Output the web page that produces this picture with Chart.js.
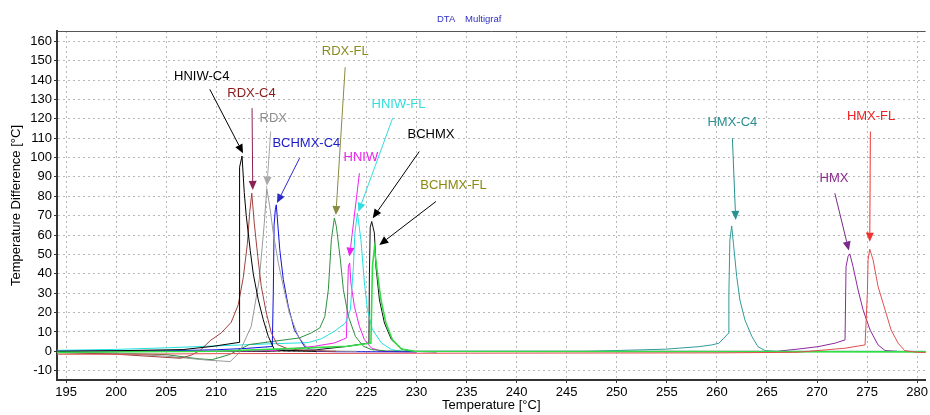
<!DOCTYPE html>
<html>
<head>
<meta charset="utf-8">
<script src="https://cdn.jsdelivr.net/npm/chart.js@4/dist/chart.umd.min.js"></script>
<style>
  html, body { margin: 0; padding: 0; background: #fff; }
  #wrap { width: 930px; height: 415px; }
</style>
</head>
<body>
<div id="wrap"><canvas id="dta" width="930" height="415"></canvas></div>
<script>
// tick values
const xTicks = [195, 200, 205, 210, 215, 220, 225, 230, 235, 240, 245, 250, 255, 260, 265, 270, 275, 280];
const yTicks = [-10, 0, 10, 20, 30, 40, 50, 60, 70, 80, 90, 100, 110, 120, 130, 140, 150, 160];

// curves: temperature [°C] / temperature difference [°C]
const hniwC4T = [194.1, 200, 206.7, 209.7, 212.28, 212.31, 212.36, 212.58, 212.8, 213.0, 213.4, 213.7, 214.2, 214.7, 215.2, 215.8, 217, 220];
const hniwC4V = [0, 0.3, 0.9, 2.6, 4.6, 60, 95, 100.8, 82, 70, 52, 40, 26.6, 16.3, 7.7, 1, 0.2, 0];

const rdxC4T = [194.1, 200, 204, 206.4, 207.5, 208.4, 209.4, 210.5, 211.5, 212.2, 212.7, 213.1, 213.35, 213.55, 213.8, 214.15, 214.5, 215.0, 215.5, 216.1, 217.1, 219, 222];
const rdxC4V = [-0.5, -1.5, -2.8, -3.6, -2, 0.5, 5.5, 9.5, 15, 24, 38, 55, 72, 81.6, 66.2, 49, 33.5, 19.9, 9.6, 3.5, 1.4, 0.3, 0];

const rdxT = [194.1, 200, 205, 209, 211.4, 212.3, 213.5, 214.3, 214.8, 215.05, 215.35, 215.7, 216.2, 216.7, 217.3, 218.2, 219.2, 221, 224];
const rdxV = [-0.5, -1, -2.5, -4.5, -5.3, -0.7, 12.9, 37, 66, 84, 74.7, 61, 45.7, 33.5, 19.9, 7.7, 0.9, 0.2, 0];

const bchmxC4T = [194.1, 205, 210, 213, 215.6, 215.7, 215.78, 215.9, 216.0, 216.35, 216.7, 217.2, 217.8, 218.8, 219.8, 222, 230];
const bchmxC4V = [0, 0.3, 0.8, 1.5, 2.5, 30, 65, 73, 75.6, 52.4, 37, 23.2, 11.2, 2.6, 0, -0.2, -0.3];

const rdxFlT = [194.1, 200, 205, 208.3, 209.6, 211.3, 213.3, 218.3, 219.5, 220.35, 220.85, 221.2, 221.5, 221.8, 222.0, 222.4, 222.7, 223.2, 223.9, 224.7, 225.5, 227, 230];
const rdxFlV = [-0.8, -1, -1.7, -3.9, -4.3, -1.7, 3.5, 6.9, 9.5, 12.1, 18, 31.8, 57.6, 68.8, 64.4, 47.3, 31.8, 18, 7.7, 2.6, 0.9, 0.2, 0];

const hniwFlT = [194.1, 200, 205, 210, 215, 219.2, 220.5, 221.8, 222.9, 223.4, 223.7, 223.85, 224.1, 224.45, 224.8, 225.1, 225.6, 226.5, 227.5, 228.5, 232];
const hniwFlV = [0.5, 1, 1.8, 2.8, 3.8, 4.5, 6.5, 10.3, 14.6, 21.5, 43.8, 61, 71.3, 57.6, 35.3, 21.5, 11.2, 4.3, 0.9, 0, -0.2];

const hniwT = [194.1, 210, 216, 219.8, 221.8, 223.0, 223.12, 223.2, 223.33, 223.45, 223.8, 224.3, 224.8, 225.5, 226.5, 230];
const hniwV = [0, 0, 0.5, 2.6, 4.3, 6.9, 30, 44, 45.6, 35.3, 23.2, 12.9, 6, 1.7, 0, -0.3];

const bchmxT = [194.1, 215, 220, 223, 225.25, 225.3, 225.38, 225.53, 225.8, 225.95, 226.3, 226.8, 227.5, 228.5, 229.5, 232];
const bchmxV = [0, 0, 0.8, 2.5, 4.3, 40, 64, 67, 61, 43.8, 26.6, 14.6, 6, 1.2, 0, -0.3];

const bchmxFlT = [194.1, 210, 218, 223.1, 225.45, 225.6, 225.8, 226.1, 226.45, 226.95, 227.6, 228.5, 229.8, 281];
const bchmxFlV = [-0.5, 0, 1.5, 2.6, 4.3, 43.8, 53.3, 40.4, 26.6, 14.6, 6, 1.2, 0, -0.3];

const hmxC4T = [230, 240, 246.9, 254.85, 258.2, 259.5, 260.2, 260.7, 261.15, 261.2, 261.3, 261.48, 261.65, 261.98, 262.3, 262.8, 263.5, 264.1, 264.8, 266, 281];
const hmxC4V = [0, 0, 0, 1.1, 2.4, 3.3, 4.2, 6.8, 9.3, 30, 57.5, 64.7, 55.8, 38.6, 26.5, 16.2, 7.6, 2.4, 0.4, 0, 0];

const hmxT = [230, 266, 268, 270.1, 271.8, 272.8, 272.9, 273.1, 273.28, 273.6, 274.1, 274.6, 275.3, 276.1, 276.8, 278];
const hmxV = [0, 0, 1.1, 2.4, 4.2, 5.9, 43.7, 48.9, 50.3, 43.7, 31.7, 21.4, 11, 3.3, 0.4, 0];

const hmxFlT = [194.1, 200, 210, 230, 260, 268, 270.1, 272.8, 274.8, 275.03, 275.1, 275.27, 275.6, 276.1, 276.8, 277.4, 278.1, 278.75, 280, 281];
const hmxFlV = [-1.5, -1.5, -1.2, -1, -0.8, -0.5, 0.4, 1.6, 3.3, 30, 47.2, 52.7, 47.2, 33.4, 21.4, 11, 4.2, 0.4, -0.5, -0.6];

function pts(t, v) {
  return t.map((x, i) => ({ x: x, y: v[i] }));
}

function series(label, t, v, color, width) {
  return {
    label: label,
    data: pts(t, v),
    borderColor: color,
    borderWidth: width || 1,
    pointRadius: 0,
    tension: 0,
    fill: false
  };
}

// label text + arrow from label to peak, in data units
const notes = [
  { text: "HNIW-C4", color: "#000000", arrow: "#000000", tx: 208.55, ty: 141.8, x1: 209.36, y1: 135.2, x2: 212.68, y2: 102.2 },
  { text: "RDX-C4", color: "#8b1a1a", arrow: "#8b2252", tx: 213.52, ty: 133.2, x1: 213.58, y1: 125.5, x2: 213.65, y2: 83.3 },
  { text: "RDX", color: "#8c8c8c", arrow: "#a8a8a8", tx: 215.7, ty: 120.3, x1: 215.44, y1: 113.4, x2: 215.07, y2: 85.5 },
  { text: "BCHMX-C4", color: "#1a1acc", arrow: "#2a2acc", tx: 219.0, ty: 107.4, x1: 218.33, y1: 99.7, x2: 216.07, y2: 76.5 },
  { text: "RDX-FL", color: "#8a8a20", arrow: "#8a8a40", tx: 222.89, ty: 154.7, x1: 222.88, y1: 146.6, x2: 221.95, y2: 70.4 },
  { text: "HNIW-FL", color: "#33dddd", arrow: "#33dddd", tx: 228.2, ty: 127.2, x1: 227.62, y1: 120.3, x2: 224.2, y2: 72.0 },
  { text: "HNIW", color: "#ee22ee", arrow: "#ee22ee", tx: 224.45, ty: 100.0, x1: 224.3, y1: 91.9, x2: 223.31, y2: 48.9 },
  { text: "BCHMX", color: "#000000", arrow: "#000000", tx: 231.45, ty: 111.7, x1: 230.28, y1: 103.1, x2: 225.63, y2: 68.7 },
  { text: "BCHMX-FL", color: "#8a8a10", arrow: "#000000", tx: 233.7, ty: 85.4, x1: 231.94, y1: 77.3, x2: 226.29, y2: 54.9 },
  { text: "HMX-C4", color: "#2a9090", arrow: "#2a9090", tx: 261.55, ty: 118.0, x1: 261.55, y1: 110.0, x2: 261.88, y2: 67.8 },
  { text: "HMX", color: "#8a2a8a", arrow: "#7a2a8a", tx: 271.7, ty: 89.0, x1: 271.78, y1: 81.6, x2: 273.18, y2: 52.0 },
  { text: "HMX-FL", color: "#ee2222", arrow: "#ee3333", tx: 275.4, ty: 121.1, x1: 275.33, y1: 113.4, x2: 275.27, y2: 56.6 }
];

const notesPlugin = {
  id: "notes",
  afterDatasetsDraw(chart) {
    const ctx = chart.ctx;
    const xs = chart.scales.x, ys = chart.scales.y;
    ctx.save();
    notes.forEach((n) => {
      const ax = xs.getPixelForValue(n.x1), ay = ys.getPixelForValue(n.y1);
      const bx = xs.getPixelForValue(n.x2), by = ys.getPixelForValue(n.y2);
      const ang = Math.atan2(by - ay, bx - ax);
      const len = 9, half = 4;
      const baseX = bx - len * Math.cos(ang), baseY = by - len * Math.sin(ang);
      ctx.strokeStyle = n.arrow;
      ctx.fillStyle = n.arrow;
      ctx.lineWidth = 1;
      ctx.beginPath();
      ctx.moveTo(ax, ay);
      ctx.lineTo(baseX, baseY);
      ctx.stroke();
      ctx.beginPath();
      ctx.moveTo(bx, by);
      ctx.lineTo(baseX + half * Math.sin(ang), baseY - half * Math.cos(ang));
      ctx.lineTo(baseX - half * Math.sin(ang), baseY + half * Math.cos(ang));
      ctx.closePath();
      ctx.fill();

      ctx.fillStyle = n.color;
      ctx.font = "13px 'Liberation Sans', Arial, sans-serif";
      ctx.textAlign = "center";
      ctx.textBaseline = "middle";
      ctx.fillText(n.text, xs.getPixelForValue(n.tx), ys.getPixelForValue(n.ty));
    });
    ctx.restore();
  },
  afterDraw(chart) {
    const ctx = chart.ctx;
    const a = chart.chartArea;
    ctx.save();
    // top frame line
    ctx.strokeStyle = "#555555";
    ctx.lineWidth = 1;
    ctx.beginPath();
    ctx.moveTo(a.left, a.top + 0.5);
    ctx.lineTo(a.right, a.top + 0.5);
    ctx.stroke();
    // header
    ctx.fillStyle = "#3030c0";
    ctx.font = "9.5px 'Liberation Sans', Arial, sans-serif";
    ctx.textBaseline = "middle";
    ctx.textAlign = "left";
    ctx.fillText("DTA", 437, 19);
    ctx.fillText("Multigraf", 465, 19);
    ctx.restore();
  }
};

const tickFont = { family: "'Liberation Sans', Arial, sans-serif", size: 13 };

new Chart(document.getElementById("dta"), {
  type: "line",
  data: {
    datasets: [
      series("HMX-FL", hmxFlT, hmxFlV, "#e05050"),
      series("BCHMX-FL", bchmxFlT, bchmxFlV, "#33dd44", 1.6),
      series("HNIW-C4", hniwC4T, hniwC4V, "#000000"),
      series("RDX-C4", rdxC4T, rdxC4V, "#a0403c"),
      series("RDX", rdxT, rdxV, "#9a9a9a"),
      series("BCHMX-C4", bchmxC4T, bchmxC4V, "#1010e0"),
      series("RDX-FL", rdxFlT, rdxFlV, "#2f8f3f"),
      series("HNIW-FL", hniwFlT, hniwFlV, "#22e0e0"),
      series("HNIW", hniwT, hniwV, "#ee22ee"),
      series("BCHMX", bchmxT, bchmxV, "#111111"),
      series("HMX-C4", hmxC4T, hmxC4V, "#349a9a"),
      series("HMX", hmxT, hmxV, "#8a2a9a")
    ]
  },
  options: {
    responsive: false,
    animation: false,
    events: [],
    layout: { padding: { top: 31, right: 2, left: 0, bottom: 0 } },
    plugins: {
      legend: { display: false },
      tooltip: { enabled: false }
    },
    scales: {
      x: {
        type: "linear",
        min: 194.1,
        max: 280.85,
        afterBuildTicks: (s) => { s.ticks = xTicks.map((v) => ({ value: v })); },
        afterFit: (s) => { s.height = 35; },
        ticks: { color: "#000", font: tickFont, padding: 2, maxRotation: 0 },
        grid: { color: "#b8b8b8", tickColor: "#333", tickLength: 3, lineWidth: 1 },
        border: { color: "#333333", width: 2, dash: [2, 3] },
        title: {
          display: true,
          text: "Temperature [°C]",
          color: "#000",
          font: tickFont,
          padding: { top: 0, bottom: 2 }
        }
      },
      y: {
        min: -14.8,
        max: 165.3,
        afterBuildTicks: (s) => { s.ticks = yTicks.map((v) => ({ value: v })); },
        afterFit: (s) => { s.width = 57; },
        ticks: { color: "#000", font: tickFont, padding: 2 },
        grid: { color: "#b8b8b8", tickColor: "#333", tickLength: 3, lineWidth: 1 },
        border: { color: "#333333", width: 2, dash: [2, 3] },
        title: {
          display: true,
          text: "Temperature Difference [°C]",
          color: "#000",
          font: tickFont,
          padding: { top: 9, bottom: 0 }
        }
      }
    }
  },
  plugins: [notesPlugin]
});
</script>
</body>
</html>
